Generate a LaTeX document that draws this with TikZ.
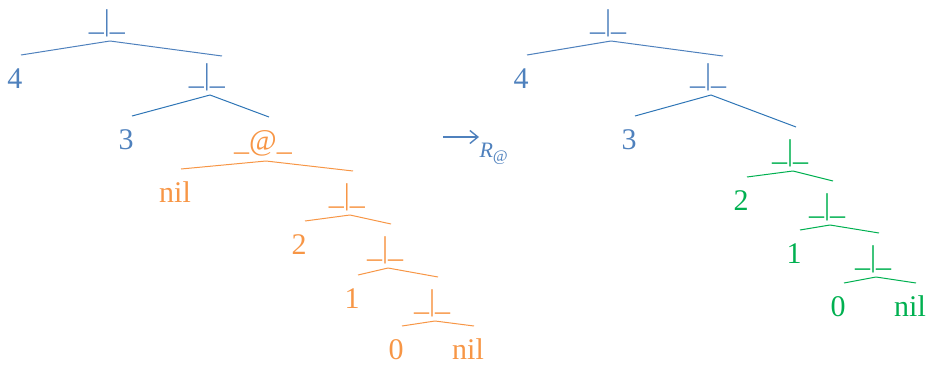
\documentclass[tikz,border=0pt]{standalone}
\usepackage{fontspec}
\setmainfont{Liberation Serif}
\usepackage{xcolor}
\definecolor{treeblue}{RGB}{79,129,189}
\definecolor{edgeblue}{RGB}{46,117,182}
\definecolor{treeorange}{RGB}{247,150,70}
\definecolor{treegreen}{RGB}{0,176,80}
\usetikzlibrary{arrows.meta}

% the "_|_" constructor and the append operator
\newcommand{\consop}{\_|\_}
\newcommand{\appop}{\_@\_}
% one branch from a parent node down to a child node
\newcommand{\branch}[3]{\draw[#1] ([shift={(3pt,-11pt)}]#2.base) -- ([shift={(6pt,33pt)}]#3.base);}

\begin{document}
\begin{tikzpicture}[x=1pt, y=-1pt,
  lbl/.style={anchor=base, inner sep=0pt, font=\fontsize{30}{36}\selectfont},
  line width=1pt]
  \useasboundingbox (0,0) rectangle (927,367);

  % Linke Seite: 4 :: 3 :: (nil @ 2 :: 1 :: 0 :: nil)
  \node[lbl, treeblue] (r1) at (107,30) {\consop};
  \node[lbl, treeblue] (n4) at (15,88) {4};
  \node[lbl, treeblue] (r2) at (207,84) {\consop};
  \node[lbl, treeblue] (n3) at (126,149) {3};
  \node[lbl, treeorange] (ap) at (263,150) {\appop};
  \node[lbl, treeorange] (nilA) at (175,202) {nil};
  \node[lbl, treeorange] (r3) at (347,204) {\consop};
  \node[lbl, treeorange] (n2) at (299,254) {2};
  \node[lbl, treeorange] (r4) at (385,257) {\consop};
  \node[lbl, treeorange] (n1) at (352,308) {1};
  \node[lbl, treeorange] (r5) at (432,310) {\consop};
  \node[lbl, treeorange] (n0) at (396,359) {0};
  \node[lbl, treeorange] (nilB) at (468,359) {nil};

  \branch{treeblue}{r1}{n4}
  \draw[treeblue] ([shift={(3pt,-11pt)}]r1.base) -- ([shift={(15pt,28pt)}]r2.base);
  \branch{edgeblue}{r2}{n3}
  \branch{edgeblue}{r2}{ap}
  \branch{treeorange}{ap}{nilA}
  \branch{treeorange}{ap}{r3}
  \branch{treeorange}{r3}{n2}
  \branch{treeorange}{r3}{r4}
  \branch{treeorange}{r4}{n1}
  \branch{treeorange}{r4}{r5}
  \branch{treeorange}{r5}{n0}
  \branch{treeorange}{r5}{nilB}

  % Reduktionsschritt
  \coordinate (stepL) at (443,137);
  \coordinate (stepR) at (479,137);
  \draw[treeblue, line width=1.4pt, -{Straight Barb[length=8pt,width=13pt]}] (stepL) -- (stepR);
  \node[anchor=base west, inner sep=0pt, treeblue, font=\fontsize{22}{26}\selectfont]
    (rule) at (479,157) {\textit{R}\raisebox{-4pt}{\fontsize{16}{18}\selectfont\textit{@}}};

  % Rechte Seite: 4 :: 3 :: 2 :: 1 :: 0 :: nil
  \node[lbl, treeblue] (s1) at (608,30) {\consop};
  \node[lbl, treeblue] (m4) at (521,88) {4};
  \node[lbl, treeblue] (s2) at (708,84) {\consop};
  \node[lbl, treeblue] (m3) at (629,149) {3};
  \node[lbl, treegreen] (g1) at (790,160) {\consop};
  \node[lbl, treegreen] (m2) at (741,210) {2};
  \node[lbl, treegreen] (g2) at (827,214) {\consop};
  \node[lbl, treegreen] (m1) at (794,263) {1};
  \node[lbl, treegreen] (g3) at (873,266) {\consop};
  \node[lbl, treegreen] (m0) at (838,316) {0};
  \node[lbl, treegreen] (nilC) at (910,316) {nil};

  \branch{treeblue}{s1}{m4}
  \draw[treeblue] ([shift={(3pt,-11pt)}]s1.base) -- ([shift={(15pt,28pt)}]s2.base);
  \branch{edgeblue}{s2}{m3}
  \branch{edgeblue}{s2}{g1}
  \branch{treegreen}{g1}{m2}
  \branch{treegreen}{g1}{g2}
  \branch{treegreen}{g2}{m1}
  \branch{treegreen}{g2}{g3}
  \branch{treegreen}{g3}{m0}
  \branch{treegreen}{g3}{nilC}
\end{tikzpicture}
\end{document}
